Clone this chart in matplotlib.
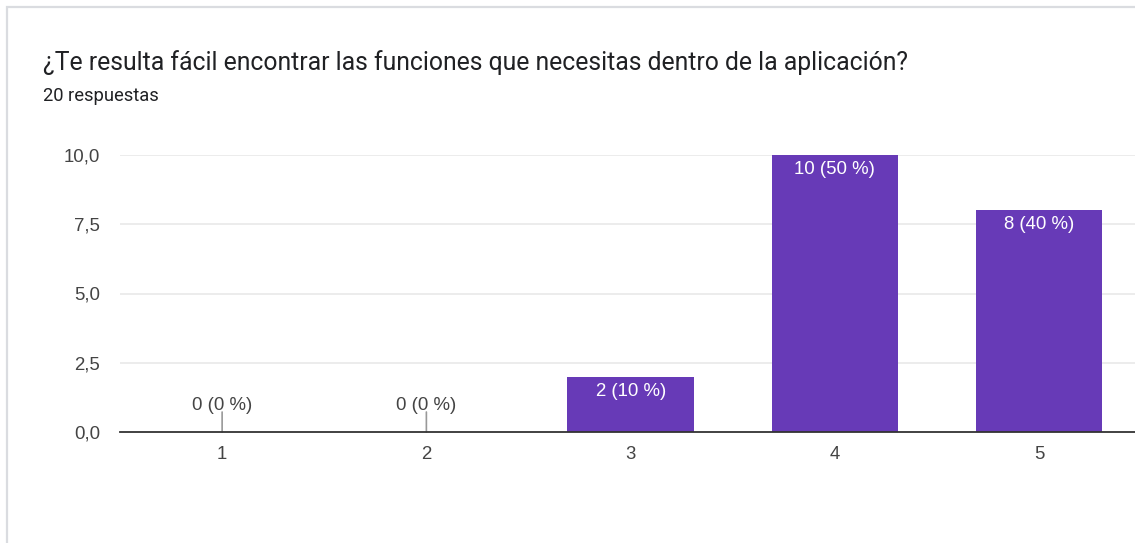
import matplotlib
matplotlib.use('Agg')
import matplotlib.pyplot as plt
from matplotlib.patches import Rectangle

title = '¿Te resulta fácil encontrar las funciones que necesitas dentro de la aplicación?'
subtitle = '20 respuestas'
categories = ['1', '2', '3', '4', '5']
counts = [0, 0, 2, 10, 8]
percents = [0, 0, 10, 50, 40]
y_ticks = [0.0, 2.5, 5.0, 7.5, 10.0]

W, H = 1135, 543
fig = plt.figure(figsize=(W / 100, H / 100), dpi=100)
fig.patch.set_facecolor('white')

# card border (top and left edges visible)
fig.add_artist(Rectangle((7 / W, -0.1), 1.2, (H - 7) / H + 0.1, transform=fig.transFigure,
                         fill=False, edgecolor='#dadce0', linewidth=1.6))

fig.text(43 / W, 1 - 63 / H, title, fontsize=17.8, family='Roboto', color='#202124', va='center')
fig.text(43 / W, 1 - 96 / H, subtitle, fontsize=13.2, family='Roboto', color='#202124', va='center')

ax_left, ax_right = 120, 1135
ax_bottom, ax_top = 432, 155
ax = fig.add_axes([ax_left / W, 1 - ax_bottom / H, (ax_right - ax_left) / W, (ax_bottom - ax_top) / H])

x = list(range(1, len(categories) + 1))
ax.bar(x, counts, width=0.62, color='#673ab7', zorder=2)

spacing = 204.25
ax.set_xlim(0.5, 0.5 + (ax_right - ax_left) / spacing)
ax.set_ylim(0, 10)

font = 'Liberation Sans'
fsize = 13.4
ax.set_yticks(y_ticks)
ax.set_yticklabels([f'{v:.1f}'.replace('.', ',') for v in y_ticks], family=font, fontsize=fsize, color='#444444')
ax.set_xticks(x)
ax.set_xticklabels(categories, family=font, fontsize=fsize, color='#444444')
ax.tick_params(axis='both', length=0)
ax.tick_params(axis='y', pad=14.4)
ax.tick_params(axis='x', pad=10)

for y in y_ticks[1:]:
    ax.axhline(y, color='#ebebeb', linewidth=1.3, zorder=0)

for s in ['top', 'right', 'left']:
    ax.spines[s].set_visible(False)
ax.spines['bottom'].set_color('#333333')
ax.spines['bottom'].set_linewidth(1.3)
ax.spines['bottom'].set_zorder(3)

for xi, c, p in zip(x, counts, percents):
    label = f'{c} ({p} %)'
    if c == 0:
        ax.annotate('', xy=(xi, 0), xytext=(0, 20), textcoords='offset pixels',
                    xycoords='data', arrowprops=dict(arrowstyle='-', color='#999999', lw=1.2,
                                                     shrinkA=0, shrinkB=0))
        ax.annotate(label, xy=(xi, 0), xytext=(0, 27), textcoords='offset pixels',
                    ha='center', va='center', family=font, fontsize=fsize, color='#444444')
    else:
        ax.annotate(label, xy=(xi, c), xytext=(0, -14.5), textcoords='offset pixels',
                    ha='center', va='center', family=font, fontsize=fsize, color='white')

fig.savefig('out.png', dpi=100, facecolor='white')
